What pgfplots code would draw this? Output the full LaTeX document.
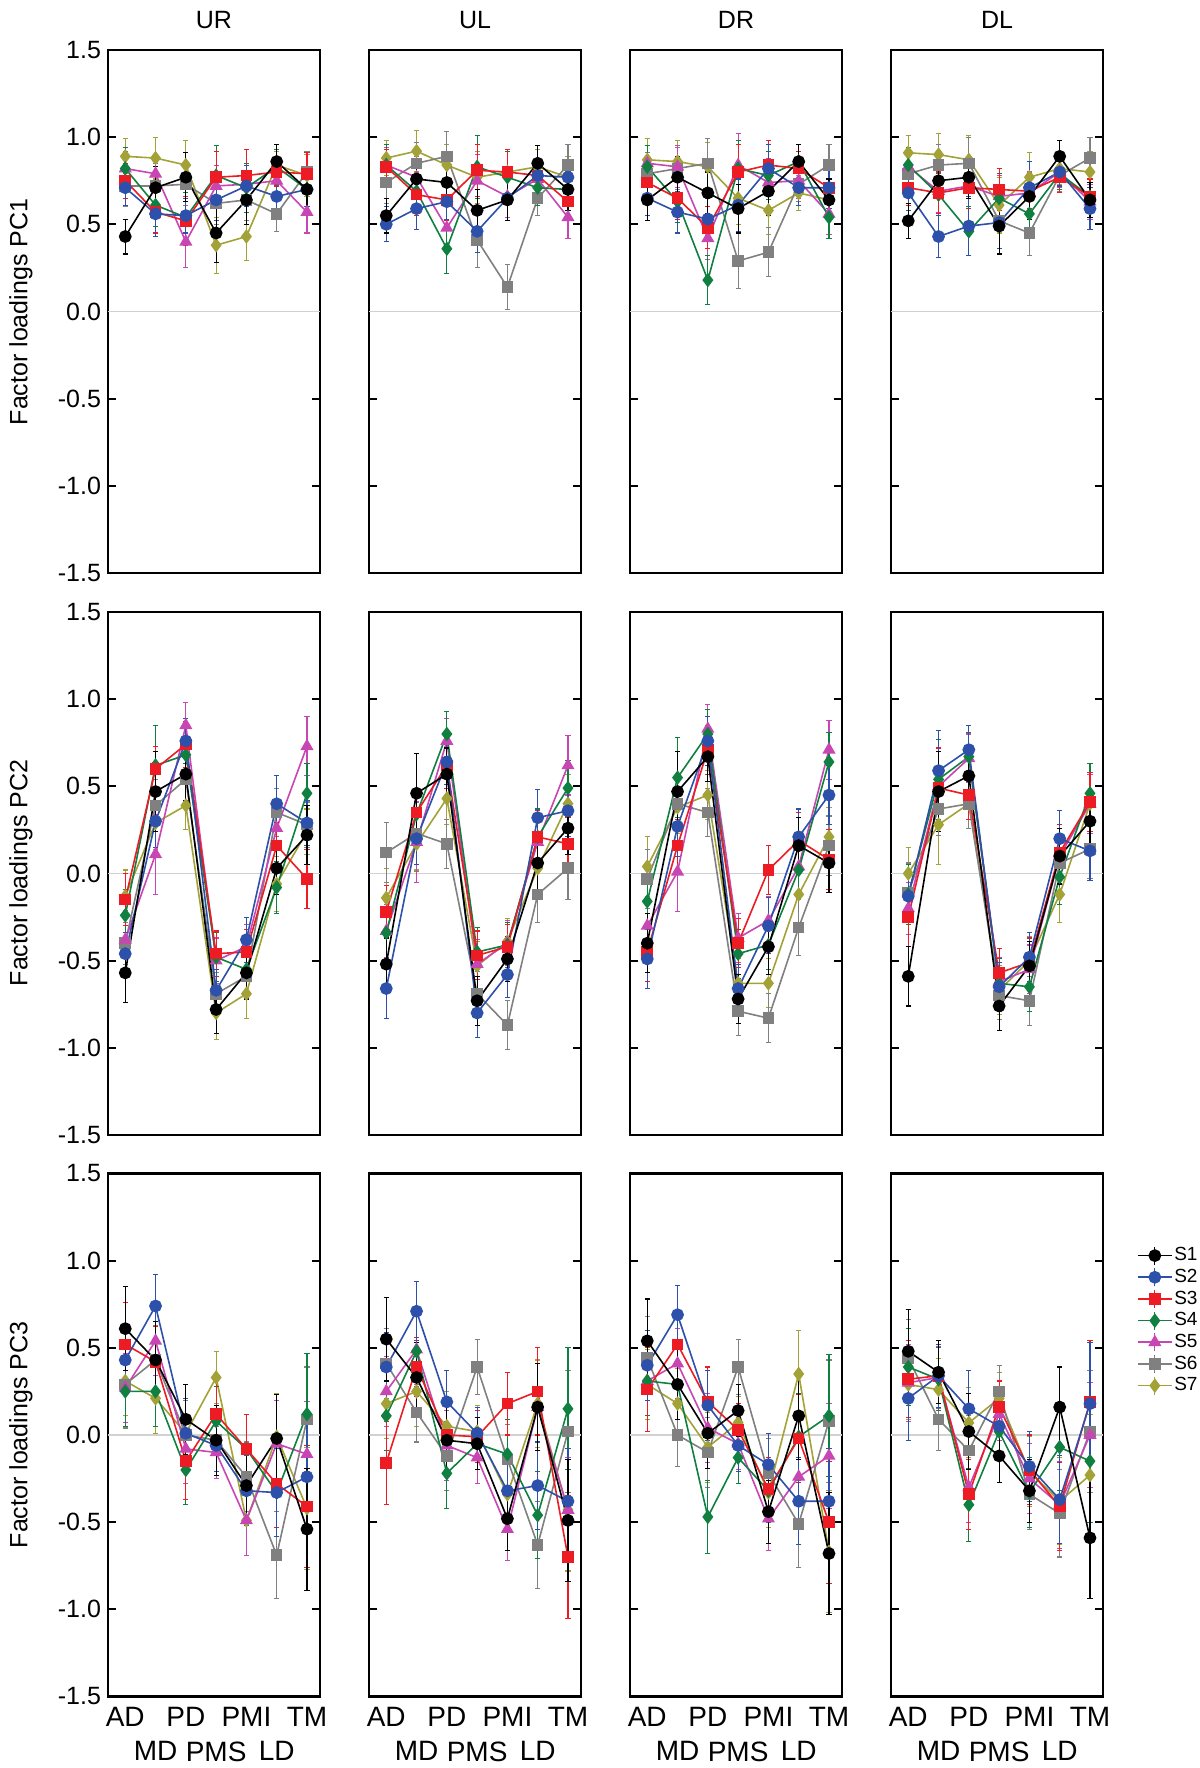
\documentclass[border=0pt]{standalone}
\usepackage{fontspec}
\setmainfont{Liberation Sans}
\usepackage{pgfplots}
\usepackage{pgfplotstable}
\pgfplotsset{compat=1.18}

\definecolor{c1}{RGB}{0,0,0}
\definecolor{c2}{RGB}{45,80,170}
\definecolor{c3}{RGB}{237,28,36}
\definecolor{c4}{RGB}{16,128,64}
\definecolor{c5}{RGB}{200,70,180}
\definecolor{c6}{RGB}{128,128,128}
\definecolor{c7}{RGB}{162,162,55}

% columns: x, S1 err, S2 err, ..., S7 err ; x: AD MD PD PMS PMI LD TM
\pgfplotstableread{
x s1 e1 s2 e2 s3 e3 s4 e4 s5 e5 s6 e6 s7 e7
1 0.43 .10 0.71 .10 0.75 .10 0.82 .12 0.82 .10 0.72 .12 0.89 .10
2 0.71 .12 0.56 .13 0.57 .12 0.61 .12 0.79 .10 0.72 .13 0.88 .12
3 0.77 .14 0.55 .10 0.52 .14 0.54 .14 0.40 .15 0.73 .12 0.84 .14
4 0.45 .17 0.64 .12 0.77 .15 0.78 .17 0.72 .12 0.62 .12 0.38 .16
5 0.64 .14 0.72 .12 0.78 .15 0.71 .14 0.73 .12 0.64 .12 0.43 .14
6 0.86 .10 0.66 .10 0.80 .08 0.83 .10 0.75 .08 0.56 .10 0.84 .08
7 0.70 .12 0.70 .10 0.79 .12 0.70 .12 0.57 .12 0.80 .12 0.78 .12
}\tAa
\pgfplotstableread{
x s1 e1 s2 e2 s3 e3 s4 e4 s5 e5 s6 e6 s7 e7
1 0.55 .10 0.50 .10 0.83 .10 0.84 .12 0.84 .10 0.74 .12 0.88 .10
2 0.76 .12 0.59 .12 0.67 .12 0.69 .13 0.77 .12 0.85 .12 0.92 .12
3 0.74 .12 0.63 .10 0.64 .12 0.36 .14 0.48 .12 0.89 .14 0.84 .12
4 0.58 .12 0.46 .12 0.81 .15 0.83 .18 0.75 .15 0.41 .16 0.77 .15
5 0.64 .12 0.65 .13 0.80 .13 0.77 .15 0.66 .12 0.14 .13 0.80 .13
6 0.85 .10 0.78 .10 0.78 .10 0.71 .10 0.76 .10 0.65 .10 0.83 .10
7 0.70 .12 0.77 .10 0.63 .10 0.70 .10 0.54 .12 0.84 .12 0.77 .12
}\tAb
\pgfplotstableread{
x s1 e1 s2 e2 s3 e3 s4 e4 s5 e5 s6 e6 s7 e7
1 0.64 .12 0.65 .10 0.74 .12 0.83 .12 0.85 .10 0.79 .12 0.87 .12
2 0.77 .12 0.57 .12 0.65 .12 0.63 .12 0.83 .12 0.82 .12 0.86 .12
3 0.68 .12 0.53 .12 0.48 .12 0.18 .14 0.42 .12 0.85 .14 0.83 .14
4 0.59 .14 0.61 .15 0.80 .16 0.82 .16 0.84 .18 0.29 .16 0.65 .15
5 0.69 .14 0.82 .14 0.84 .14 0.78 .14 0.74 .14 0.34 .14 0.58 .14
6 0.86 .10 0.71 .10 0.82 .10 0.86 .10 0.75 .10 0.73 .10 0.68 .10
7 0.64 .12 0.71 .12 0.71 .12 0.54 .12 0.56 .12 0.84 .12 0.64 .12
}\tAc
\pgfplotstableread{
x s1 e1 s2 e2 s3 e3 s4 e4 s5 e5 s6 e6 s7 e7
1 0.52 .10 0.68 .10 0.71 .10 0.84 .10 0.83 .10 0.79 .10 0.91 .10
2 0.75 .10 0.43 .12 0.68 .12 0.67 .12 0.69 .12 0.84 .12 0.90 .12
3 0.77 .12 0.49 .17 0.71 .12 0.46 .14 0.72 .12 0.85 .15 0.87 .14
4 0.49 .16 0.51 .15 0.70 .12 0.65 .14 0.66 .12 0.52 .16 0.61 .16
5 0.66 .13 0.71 .15 0.69 .10 0.56 .13 0.68 .12 0.45 .13 0.77 .14
6 0.89 .09 0.80 .08 0.77 .09 0.79 .09 0.80 .09 0.78 .09 0.82 .09
7 0.64 .10 0.59 .12 0.66 .10 0.66 .10 0.63 .10 0.88 .12 0.80 .12
}\tAd
\pgfplotstableread{
x s1 e1 s2 e2 s3 e3 s4 e4 s5 e5 s6 e6 s7 e7
1 -0.57 .17 -0.46 .12 -0.15 .15 -0.24 .15 -0.38 .17 -0.40 .12 -0.13 .15
2 0.47 .23 0.30 .15 0.60 .13 0.62 .23 0.11 .23 0.39 .15 0.29 .15
3 0.57 .15 0.76 .13 0.74 .13 0.68 .15 0.85 .13 0.54 .13 0.39 .14
4 -0.78 .14 -0.67 .12 -0.46 .13 -0.48 .14 -0.50 .13 -0.69 .12 -0.80 .15
5 -0.57 .15 -0.38 .13 -0.45 .13 -0.55 .15 -0.42 .13 -0.59 .13 -0.69 .14
6 0.03 .15 0.40 .16 0.16 .13 -0.08 .15 0.26 .13 0.35 .14 -0.06 .16
7 0.22 .17 0.29 .13 -0.03 .17 0.46 .17 0.73 .17 0.28 .13 0.24 .13
}\tBa
\pgfplotstableread{
x s1 e1 s2 e2 s3 e3 s4 e4 s5 e5 s6 e6 s7 e7
1 -0.52 .15 -0.66 .17 -0.22 .15 -0.34 .15 -0.33 .15 0.12 .17 -0.14 .17
2 0.46 .23 0.20 .15 0.35 .13 0.34 .15 0.18 .23 0.23 .22 0.17 .15
3 0.57 .15 0.64 .13 0.62 .13 0.80 .13 0.76 .13 0.17 .14 0.43 .15
4 -0.73 .14 -0.80 .14 -0.47 .14 -0.45 .14 -0.52 .14 -0.69 .13 -0.53 .14
5 -0.49 .13 -0.58 .13 -0.42 .13 -0.41 .13 -0.40 .13 -0.87 .14 -0.39 .13
6 0.06 .15 0.32 .16 0.21 .15 0.21 .16 0.18 .15 -0.12 .16 0.03 .16
7 0.26 .15 0.36 .15 0.17 .15 0.49 .16 0.62 .17 0.03 .18 0.40 .17
}\tBb
\pgfplotstableread{
x s1 e1 s2 e2 s3 e3 s4 e4 s5 e5 s6 e6 s7 e7
1 -0.40 .17 -0.49 .17 -0.45 .17 -0.16 .15 -0.30 .15 -0.03 .17 0.04 .17
2 0.47 .23 0.27 .17 0.16 .15 0.55 .23 0.01 .23 0.40 .15 0.38 .15
3 0.67 .14 0.76 .14 0.71 .14 0.80 .14 0.83 .14 0.35 .14 0.45 .14
4 -0.72 .14 -0.66 .14 -0.40 .14 -0.46 .14 -0.37 .14 -0.79 .14 -0.63 .14
5 -0.42 .16 -0.30 .16 0.02 .14 -0.41 .14 -0.27 .14 -0.83 .14 -0.63 .14
6 0.16 .16 0.21 .16 0.19 .16 0.02 .15 0.04 .15 -0.31 .16 -0.12 .16
7 0.06 .17 0.45 .17 0.08 .17 0.64 .17 0.71 .17 0.16 .17 0.21 .17
}\tBc
\pgfplotstableread{
x s1 e1 s2 e2 s3 e3 s4 e4 s5 e5 s6 e6 s7 e7
1 -0.59 .17 -0.13 .15 -0.25 .17 -0.12 .17 -0.20 .15 -0.11 .17 0.00 .15
2 0.47 .23 0.59 .23 0.49 .23 0.54 .23 0.50 .20 0.37 .15 0.28 .23
3 0.56 .14 0.71 .14 0.45 .14 0.67 .14 0.66 .14 0.40 .14 0.40 .14
4 -0.76 .14 -0.65 .14 -0.57 .14 -0.63 .14 -0.62 .14 -0.70 .14 -0.67 .14
5 -0.53 .14 -0.48 .14 -0.51 .14 -0.65 .14 -0.55 .14 -0.73 .14 -0.50 .14
6 0.10 .16 0.20 .16 0.12 .16 -0.02 .16 0.10 .16 0.06 .16 -0.12 .16
7 0.30 .17 0.13 .17 0.41 .17 0.46 .17 0.40 .17 0.14 .17 0.40 .17
}\tBd
\pgfplotstableread{
x s1 e1 s2 e2 s3 e3 s4 e4 s5 e5 s6 e6 s7 e7
1 0.61 .24 0.43 .20 0.52 .24 0.25 .20 0.27 .20 0.29 .25 0.31 .20
2 0.43 .22 0.74 .18 0.42 .20 0.25 .20 0.54 .20 0.43 .20 0.21 .20
3 0.09 .20 0.01 .20 -0.15 .22 -0.20 .20 -0.08 .20 0.00 .20 0.01 .20
4 -0.03 .20 -0.06 .15 0.12 .20 0.08 .20 -0.10 .15 -0.03 .20 0.33 .15
5 -0.29 .20 -0.32 .20 -0.08 .20 -0.08 .20 -0.49 .20 -0.24 .20 -0.49 .20
6 -0.02 .25 -0.33 .25 -0.28 .25 -0.33 .25 -0.05 .25 -0.69 .25 -0.01 .25
7 -0.54 .35 -0.24 .30 -0.41 .35 0.12 .35 -0.11 .30 0.09 .30 -0.42 .35
}\tCa
\pgfplotstableread{
x s1 e1 s2 e2 s3 e3 s4 e4 s5 e5 s6 e6 s7 e7
1 0.55 .24 0.39 .20 -0.16 .24 0.11 .20 0.25 .20 0.41 .20 0.18 .20
2 0.33 .20 0.71 .17 0.39 .17 0.48 .20 0.49 .20 0.13 .17 0.25 .20
3 -0.03 .20 0.19 .18 0.00 .20 -0.22 .20 -0.06 .20 -0.12 .20 0.05 .20
4 -0.05 .15 0.01 .15 -0.01 .15 -0.05 .15 -0.13 .15 0.39 .16 0.02 .15
5 -0.48 .18 -0.32 .20 0.18 .18 -0.11 .20 -0.54 .18 -0.14 .20 -0.34 .20
6 0.16 .25 -0.29 .25 0.25 .25 -0.46 .25 0.16 .25 -0.63 .25 0.18 .25
7 -0.49 .35 -0.38 .30 -0.70 .35 0.15 .35 -0.43 .30 0.02 .35 -0.43 .35
}\tCb
\pgfplotstableread{
x s1 e1 s2 e2 s3 e3 s4 e4 s5 e5 s6 e6 s7 e7
1 0.54 .24 0.40 .20 0.26 .24 0.31 .20 0.31 .20 0.44 .24 0.29 .20
2 0.29 .20 0.69 .17 0.52 .20 0.29 .20 0.41 .20 0.00 .18 0.18 .20
3 0.01 .20 0.17 .20 0.19 .20 -0.47 .21 0.04 .20 -0.10 .20 -0.07 .20
4 0.14 .15 -0.06 .15 0.03 .15 -0.13 .15 -0.05 .15 0.39 .16 0.07 .15
5 -0.44 .18 -0.17 .18 -0.31 .18 -0.32 .18 -0.48 .18 -0.22 .20 -0.33 .20
6 0.11 .25 -0.38 .25 -0.02 .25 -0.01 .25 -0.24 .25 -0.51 .25 0.35 .25
7 -0.68 .35 -0.38 .30 -0.50 .35 0.11 .35 -0.12 .30 0.08 .35 -0.67 .35
}\tCc
\pgfplotstableread{
x s1 e1 s2 e2 s3 e3 s4 e4 s5 e5 s6 e6 s7 e7
1 0.48 .24 0.21 .24 0.32 .22 0.39 .22 0.30 .22 0.44 .22 0.29 .20
2 0.36 .18 0.34 .18 0.34 .18 0.32 .18 0.33 .18 0.09 .18 0.26 .18
3 0.02 .22 0.15 .22 -0.34 .20 -0.40 .21 -0.30 .20 -0.09 .20 0.07 .20
4 -0.12 .15 0.05 .15 0.16 .15 0.02 .15 0.12 .15 0.25 .15 0.21 .15
5 -0.32 .18 -0.18 .20 -0.20 .20 -0.33 .20 -0.25 .20 -0.34 .20 -0.21 .20
6 0.16 .23 -0.37 .25 -0.41 .25 -0.07 .25 -0.40 .25 -0.45 .25 -0.38 .25
7 -0.59 .35 0.18 .35 0.19 .35 -0.15 .35 0.00 .30 0.02 .35 -0.23 .35
}\tCd

\newcommand\lfont{\fontsize{12.5}{15}\selectfont}
\newcommand\xfont{\fontsize{14}{16}\selectfont}

\pgfplotsset{
  panel/.style={
    width=106pt, height=261.5pt, scale only axis, anchor=south west,
    xmin=0.43, xmax=7.43, ymin=-1.5, ymax=1.5,
    ytick={-1.5,-1,-0.5,0,0.5,1,1.5}, yticklabels={},
    xtick={1,...,7}, xticklabels={},
    tick align=inside, major tick length=4pt,
    xtick style={draw=none},
    ytick style={line width=0.9pt, black},
    axis line style={line width=1.3pt},
    yticklabel style={font=\lfont},
    xticklabel style={font=\xfont},
  },
  ylab/.style={yticklabels={-1.5,-1.0,-0.5,0.0,0.5,1.0,1.5}},
  xlab/.style={xtick={1,3,5,7}, xticklabels={AD,PD,PMI,TM},
    xticklabel style={yshift=-2pt},
    extra x ticks={2,4,6}, extra x tick labels={MD,PMS,LD},
    extra x tick style={xticklabel style={yshift=-17pt}, major tick length=0pt}},
  eb/.style={error bars/.cd, y dir=both, y explicit,
    error bar style={line width=0.55pt, solid},
    error mark options={rotate=90, mark size=1.3pt, line width=0.55pt}},
  sone/.style={c1, line width=0.8pt, mark=*, mark size=2.8pt, mark options={solid, fill=c1}},
  stwo/.style={c2, line width=0.8pt, mark=*, mark size=2.8pt, mark options={solid, fill=c2}},
  sthree/.style={c3, line width=0.8pt, mark=square*, mark size=2.5pt, mark options={solid, fill=c3}},
  sfour/.style={c4, line width=0.8pt, mark=diamond*, mark size=3pt, mark options={solid, fill=c4}},
  sfive/.style={c5, line width=0.8pt, mark=triangle*, mark size=3pt, mark options={solid, fill=c5}},
  ssix/.style={c6, line width=0.8pt, mark=square*, mark size=2.5pt, mark options={solid, fill=c6}},
  sseven/.style={c7, line width=0.8pt, mark=diamond*, mark size=3pt, mark options={solid, fill=c7}},
}

\newcommand\drawall[1]{%
  \addplot[forget plot, black!18, line width=0.6pt] coordinates {(0.43,0) (7.43,0)};
  \addplot[sseven, eb] table[x=x, y=s7, y error=e7] {#1};
  \addplot[ssix, eb] table[x=x, y=s6, y error=e6] {#1};
  \addplot[sfive, eb] table[x=x, y=s5, y error=e5] {#1};
  \addplot[sfour, eb] table[x=x, y=s4, y error=e4] {#1};
  \addplot[sthree, eb] table[x=x, y=s3, y error=e3] {#1};
  \addplot[stwo, eb] table[x=x, y=s2, y error=e2] {#1};
  \addplot[sone, eb] table[x=x, y=s1, y error=e1] {#1};
}

\begin{document}
\begin{tikzpicture}
\useasboundingbox (0,0) rectangle (600pt,884pt);

% row 1 (PC1)
\begin{axis}[panel, ylab, at={(54pt,597.5pt)}]\drawall{\tAa}\end{axis}
\begin{axis}[panel, at={(184.5pt,597.5pt)}]\drawall{\tAb}\end{axis}
\begin{axis}[panel, at={(315pt,597.5pt)}]\drawall{\tAc}\end{axis}
\begin{axis}[panel, at={(445.5pt,597.5pt)}]\drawall{\tAd}\end{axis}
% row 2 (PC2)
\begin{axis}[panel, ylab, at={(54pt,316.5pt)}]\drawall{\tBa}\end{axis}
\begin{axis}[panel, at={(184.5pt,316.5pt)}]\drawall{\tBb}\end{axis}
\begin{axis}[panel, at={(315pt,316.5pt)}]\drawall{\tBc}\end{axis}
\begin{axis}[panel, at={(445.5pt,316.5pt)}]\drawall{\tBd}\end{axis}
% row 3 (PC3)
\begin{axis}[panel, ylab, xlab, at={(54pt,35.75pt)}]\drawall{\tCa}\end{axis}
\begin{axis}[panel, xlab, at={(184.5pt,35.75pt)}]\drawall{\tCb}\end{axis}
\begin{axis}[panel, xlab, at={(315pt,35.75pt)}]\drawall{\tCc}\end{axis}
\begin{axis}[panel, xlab, at={(445.5pt,35.75pt)},
  reverse legend,
  legend image code/.code={%
    \draw[mark repeat=2,mark phase=2,#1] plot coordinates {(0cm,0cm) (0.3cm,0cm) (0.6cm,0cm)};
    \draw[#1, line width=0.5pt] (0.3cm,-0.16cm) -- (0.3cm,0.16cm);},
  legend style={at={(1.13,0.87)}, anchor=north west, draw=none, fill=none,
    font=\fontsize{9.5}{11}\selectfont, row sep=1.1pt,
    nodes={inner sep=0.8pt}},
  legend cell align=left]
\drawall{\tCd}
\legend{S7,S6,S5,S4,S3,S2,S1}
\end{axis}

% column titles
\node[font=\lfont] at (107pt,874pt) {UR};
\node[font=\lfont] at (237.5pt,874pt) {UL};
\node[font=\lfont] at (368pt,874pt) {DR};
\node[font=\lfont] at (498.5pt,874pt) {DL};
% row labels
\node[font=\lfont, rotate=90] at (10.5pt,728pt) {Factor loadings PC1};
\node[font=\lfont, rotate=90] at (10.5pt,447.5pt) {Factor loadings PC2};
\node[font=\lfont, rotate=90] at (10.5pt,166.5pt) {Factor loadings PC3};
\end{tikzpicture}
\end{document}
